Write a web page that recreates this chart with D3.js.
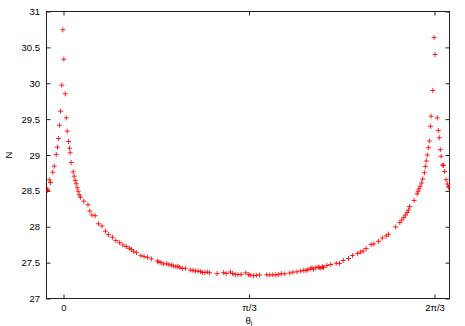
<!DOCTYPE html>
<html><head><meta charset="utf-8">
<script src="https://cdn.jsdelivr.net/npm/d3@7"></script>
<style>
html,body{margin:0;padding:0;background:#fff;}
svg{display:block;font-family:"Liberation Sans",Arial,Helvetica,sans-serif;}
</style></head>
<body>
<script>
// θ_i in degrees (ticks labelled in units of π)
const thetaDeg = [-5.27,-5.07,-4.62,-4.20,-3.46,-3.00,-2.36,-1.94,-1.62,-1.29,-0.97,-0.55,-0.23,
0.10,0.55,0.87,1.20,1.62,1.94,2.16,2.49,3.13,3.46,
3.78,4.10,4.43,4.75,5.07,5.49,6.56,7.92,8.50,9.21,
10.24,11.31,12.44,13.57,14.54,15.83,16.96,18.16,19.22,20.29,
21.32,21.97,22.62,23.59,25.04,26.07,27.14,28.43,30.37,30.86,
31.50,32.31,33.38,34.09,34.89,35.54,36.35,37.00,37.58,38.45,
39.42,41.03,41.91,42.65,43.52,44.36,44.91,45.72,46.53,47.27,
49.66,51.79,52.60,53.96,54.70,55.57,56.45,57.42,58.97,59.93,
60.42,61.49,62.36,63.42,65.75,66.72,67.69,68.66,69.47,70.44,
71.57,73.18,74.22,75.51,76.74,77.70,78.42,79.00,79.81,80.36,
80.87,81.58,82.39,82.71,83.26,83.78,84.10,85.20,86.43,88.21,
89.27,90.47,92.18,93.47,95.15,96.12,96.93,97.90,99.51,100.39,
101.87,103.13,104.36,105.10,107.43,108.79,109.43,110.08,110.66,111.15,
111.57,111.95,113.41,114.38,114.70,115.02,115.35,115.83,116.16,116.74,
117.03,117.35,117.68,118.03,118.35,118.68,118.90,119.45,119.87,120.19,
120.90,121.22,121.55,121.87,122.13,122.55,122.94,123.26,123.75,124.17,
124.49,124.82];
const N = [28.505,28.523,28.654,28.617,28.760,28.844,29.007,29.109,29.230,29.415,29.610,29.973,30.745,
30.335,29.853,29.518,29.332,29.188,29.095,29.031,28.895,28.766,28.705,
28.645,28.599,28.543,28.495,28.445,28.412,28.356,28.306,28.219,28.164,
28.154,28.041,28.010,27.938,27.889,27.853,27.808,27.778,27.746,27.725,
27.700,27.683,27.658,27.638,27.597,27.585,27.574,27.553,27.520,27.509,
27.502,27.481,27.484,27.470,27.467,27.453,27.443,27.449,27.435,27.418,
27.421,27.397,27.393,27.383,27.382,27.376,27.362,27.362,27.369,27.358,
27.348,27.360,27.348,27.369,27.348,27.334,27.334,27.334,27.358,27.332,
27.325,27.318,27.323,27.328,27.330,27.328,27.328,27.330,27.334,27.346,
27.344,27.355,27.367,27.372,27.383,27.393,27.390,27.401,27.414,27.428,
27.408,27.429,27.439,27.432,27.422,27.442,27.432,27.460,27.474,27.491,
27.488,27.530,27.557,27.599,27.627,27.648,27.662,27.697,27.753,27.760,
27.797,27.843,27.871,27.895,27.997,28.059,28.094,28.129,28.164,28.199,
28.233,28.282,28.366,28.459,28.495,28.529,28.565,28.610,28.665,28.753,
28.840,28.916,29.000,29.102,29.195,29.401,29.541,29.899,30.638,30.401,
29.518,29.341,29.241,29.074,28.982,28.861,28.854,28.770,28.656,28.596,
28.551,28.565];
const xTickValues = [0, 60, 120];
const xTickLabels = ["0", "π/3", "2π/3"];
const yTickValues = [27, 27.5, 28, 28.5, 29, 29.5, 30, 30.5, 31];
const yTickLabels = ["27", "27.5", "28", "28.5", "29", "29.5", "30", "30.5", "31"];

const W = 465, H = 326;
const L = 46.5, R = 449.5, T = 11.5, B = 298.5;

const svg = d3.select("body").append("svg").attr("width", W).attr("height", H);

const x = d3.scaleLinear().domain([-5.5, 124.85]).range([L, R]);
const y = d3.scaleLinear().domain([27, 31]).range([B, T]);

svg.append("defs").append("clipPath").attr("id", "clip")
  .append("rect").attr("x", L).attr("y", T).attr("width", R - L).attr("height", B - T);

const tickLen = 4;
const fs = "9.5px";
const axisColor = "#222";

const yLeft = d3.axisLeft(y).tickValues(yTickValues)
  .tickFormat((d, i) => yTickLabels[i]).tickSizeInner(-tickLen).tickSizeOuter(0).tickPadding(6.5);
const gl = svg.append("g").attr("transform", `translate(${L},0)`).call(yLeft);
const yRight = d3.axisRight(y).tickValues(yTickValues).tickFormat("")
  .tickSizeInner(-tickLen).tickSizeOuter(0);
const gr = svg.append("g").attr("transform", `translate(${R},0)`).call(yRight);
const xBottom = d3.axisBottom(x).tickValues(xTickValues)
  .tickFormat((d, i) => xTickLabels[i]).tickSizeInner(-tickLen).tickSizeOuter(0).tickPadding(6);
const gb = svg.append("g").attr("transform", `translate(0,${B})`).call(xBottom);
const xTop = d3.axisTop(x).tickValues(xTickValues).tickFormat("")
  .tickSizeInner(-tickLen).tickSizeOuter(0);
const gt = svg.append("g").attr("transform", `translate(0,${T})`).call(xTop);

[gl, gr, gb, gt].forEach(g => {
  g.select(".domain").remove();
  g.selectAll(".tick line").attr("stroke", axisColor).attr("stroke-width", 1);
  g.selectAll(".tick text").attr("fill", "#000").style("font-size", fs)
    .style("font-family", '"Liberation Sans",Arial,sans-serif');
});

svg.append("rect").attr("x", L).attr("y", T).attr("width", R - L).attr("height", B - T)
  .attr("fill", "none").attr("stroke", axisColor).attr("stroke-width", 1);

const s = 2.5;
const pts = svg.append("g").attr("clip-path", "url(#clip)");
const data = thetaDeg.map((t, i) => ({t, n: N[i]}));
pts.selectAll("path.pt").data(data).join("path")
  .attr("class", "pt")
  .attr("d", d => {
    const px = x(d.t), py = y(d.n);
    return `M${px - s},${py}H${px + s}M${px},${py - s}V${py + s}`;
  })
  .attr("stroke", "#ff0000").attr("stroke-width", 1).attr("stroke-opacity", 0.85).attr("fill", "none");

svg.append("text").attr("transform", `translate(8.5,${(T + B) / 2}) rotate(-90)`)
  .attr("text-anchor", "middle").attr("dominant-baseline", "central")
  .style("font-size", fs).text("N");

const xl = svg.append("text").attr("x", x(60)).attr("y", 323.5)
  .attr("text-anchor", "middle").style("font-size", fs);
xl.append("tspan").text("θ");
xl.append("tspan").attr("dy", 2).style("font-size", "7px").text("i");
</script>
</body></html>
